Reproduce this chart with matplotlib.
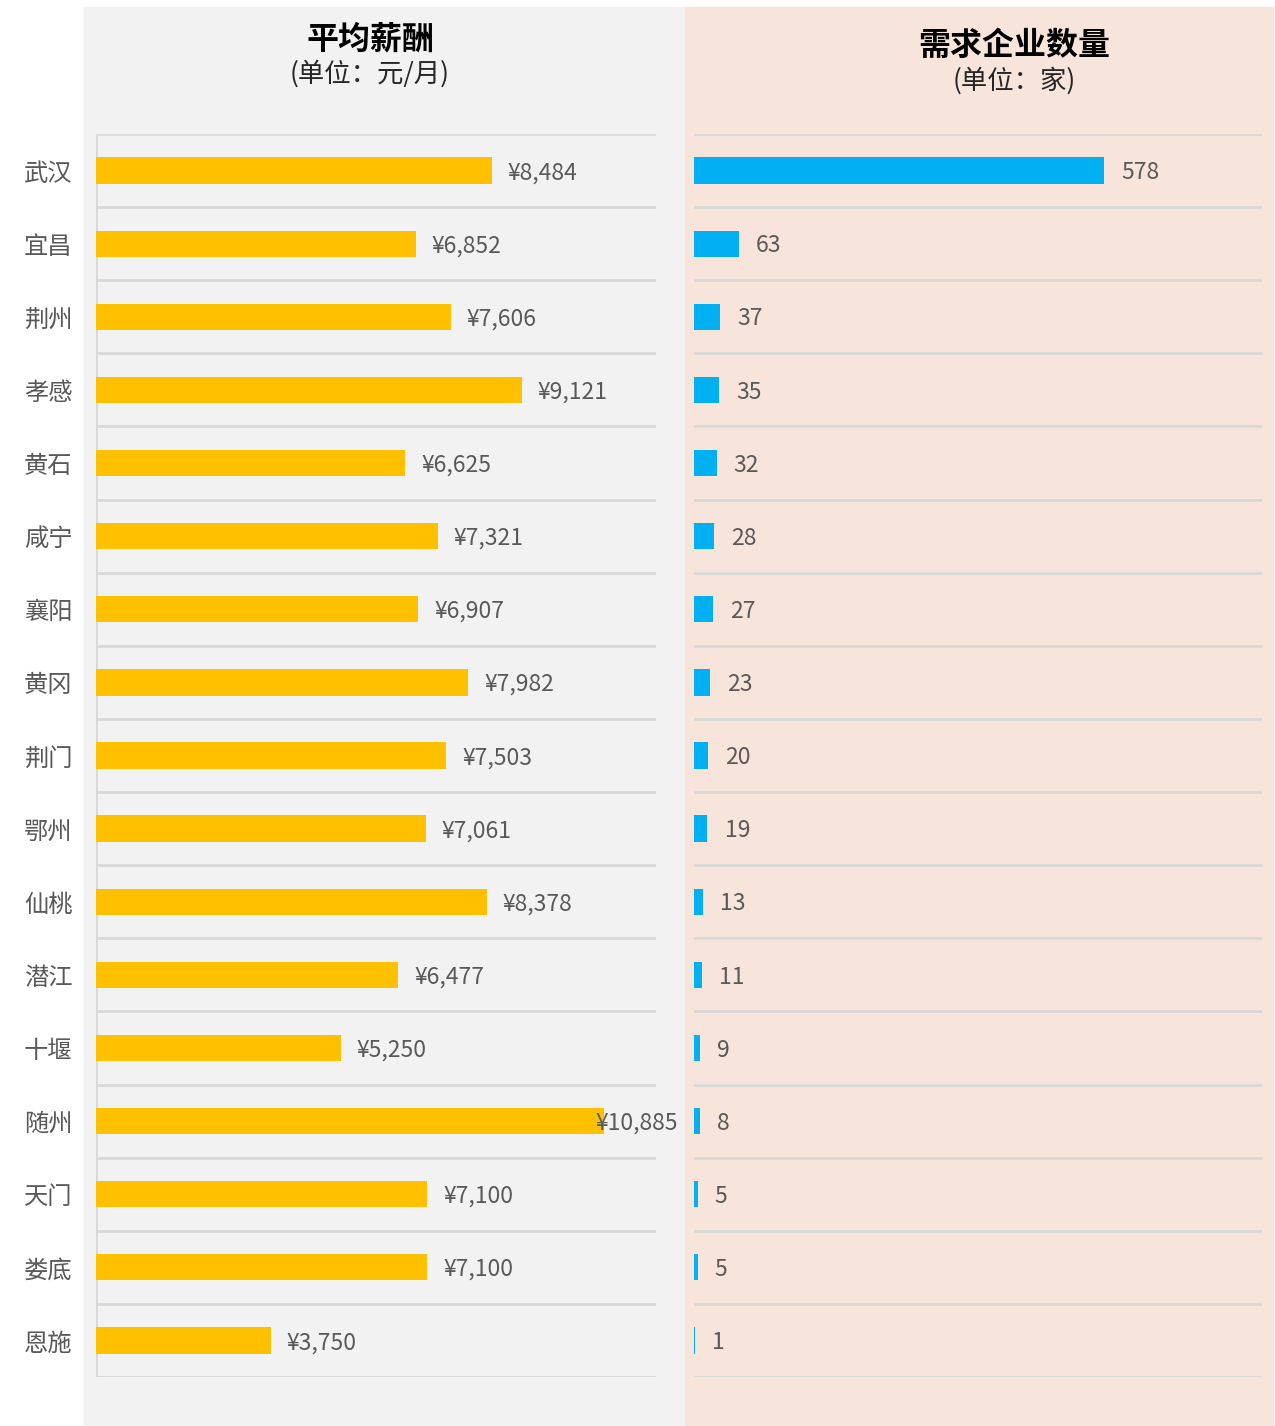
import matplotlib
matplotlib.use('Agg')
import matplotlib.pyplot as plt
from matplotlib.patches import Rectangle

plt.rcParams['font.family'] = ['Noto Sans CJK SC', 'DejaVu Sans']

cities = ['武汉', '宜昌', '荆州', '孝感', '黄石', '咸宁', '襄阳', '黄冈', '荆门',
          '鄂州', '仙桃', '潜江', '十堰', '随州', '天门', '娄底', '恩施']
salary = [8484, 6852, 7606, 9121, 6625, 7321, 6907, 7982, 7503,
          7061, 8378, 6477, 5250, 10885, 7100, 7100, 3750]
companies = [578, 63, 37, 35, 32, 28, 27, 23, 20, 19, 13, 11, 9, 8, 5, 5, 1]

W, H = 1275, 1426
fig = plt.figure(figsize=(W / 100, H / 100), dpi=100)

# panel backgrounds
fig.patches.append(Rectangle((84 / W, 0), (685 - 84) / W, 1 - 7 / H,
                             transform=fig.transFigure, color='#f2f2f2', zorder=-10))
fig.patches.append(Rectangle((685 / W, 0), (1273 - 685) / W, 1 - 7 / H,
                             transform=fig.transFigure, color='#f7e4da', zorder=-10))

bot = 1 - 1377 / H
ht = (1377 - 134) / H
ax1 = fig.add_axes([96 / W, bot, 560 / W, ht])
ax2 = fig.add_axes([694 / W, bot, 568 / W, ht])

n = len(cities)
ypos = list(range(n))
grid_c = '#d9d9d9'
txt_c = '#595959'

for ax in (ax1, ax2):
    ax.set_zorder(5)
    ax.set_facecolor('none')
    ax.set_ylim(n - 0.5, -0.5)
    for s in ax.spines.values():
        s.set_visible(False)
    for i in range(n + 1):
        ax.axhline(i - 0.5, color=grid_c, lw=2, zorder=1)
    ax.set_xticks([])
    ax.tick_params(length=0)

ax1.set_xlim(0, 12000)
ax1.axvline(0, color=grid_c, lw=2, zorder=1)
ax1.barh(ypos, salary, height=0.36, color='#ffc000', zorder=2)
ax1.set_yticks(ypos)
ax1.set_yticklabels(cities, fontsize=17.5, color=txt_c)
ax1.tick_params(axis='y', pad=17)
for y, v in zip(ypos, salary):
    ax1.text(min(v + 340, 10710), y + 0.03, f'¥{v:,}', va='center', ha='left',
             fontsize=16.5, color=txt_c, zorder=3)

ax2.set_xlim(0, 800)
ax2.set_yticks([])
ax2.barh(ypos, companies, height=0.36, color='#00b0f0', zorder=2)
for y, v in zip(ypos, companies):
    ax2.text(v + 24, y + 0.03, str(v), va='center', ha='left',
             fontsize=16.5, color=txt_c, zorder=3)

fig.text(370 / W, 1 - 40 / H, '平均薪酬', ha='center', va='center',
         fontsize=23, fontweight='bold', color='black')
fig.text(370 / W, 1 - 74 / H, '(单位：元/月)', ha='center', va='center',
         fontsize=19, color='#262626')
fig.text(1014 / W, 1 - 46 / H, '需求企业数量', ha='center', va='center',
         fontsize=23, fontweight='bold', color='black')
fig.text(1014 / W, 1 - 81 / H, '(单位：家)', ha='center', va='center',
         fontsize=19, color='#262626')

fig.savefig('out.png', dpi=100, facecolor='white')
